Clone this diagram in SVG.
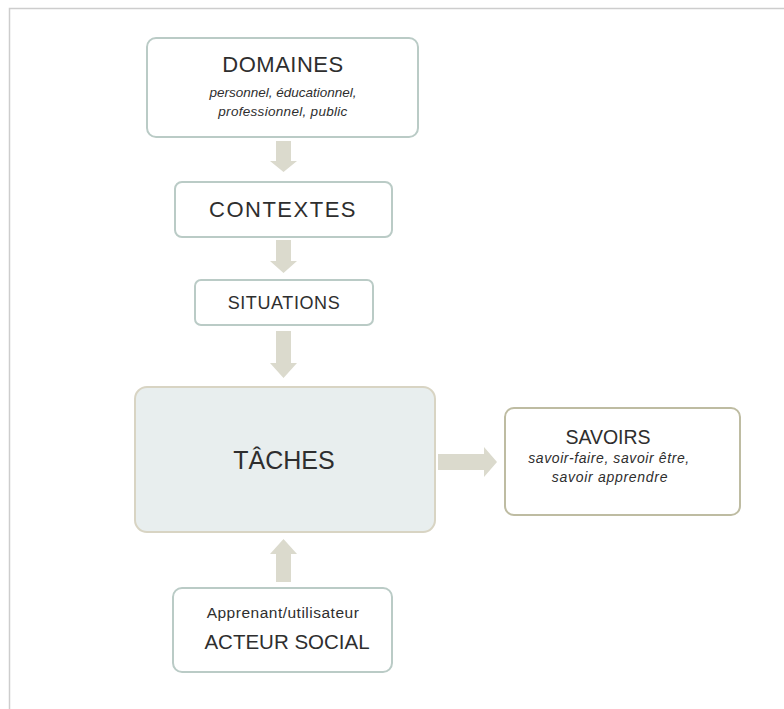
<svg xmlns="http://www.w3.org/2000/svg" width="784" height="709" viewBox="0 0 784 709">
<style>
.box{fill:#ffffff;stroke:#bacbc6;stroke-width:2}
.t{font-family:"Liberation Sans",Arial,sans-serif;fill:#2e2e2e;text-anchor:middle}
.s{font-family:"Liberation Sans",Arial,sans-serif;fill:#2e2e2e;text-anchor:middle;font-style:italic}
.arr{fill:#dbdacd}
</style>
<rect x="0" y="0" width="784" height="709" fill="#ffffff"/>
<path d="M9.5 709 V8.5 H784" fill="none" stroke="#cdcdcd" stroke-width="1.5"/>
<g id="connectors">
<polygon class="arr" points="276,141 291,141 291,161 297,161 283.5,172 270,161 276,161"/>
<polygon class="arr" points="276,240 291,240 291,261 297,261 283.5,273 270,261 276,261"/>
<polygon class="arr" points="276,331 291,331 291,363 297,363 283.5,378 270,363 276,363"/>
<polygon class="arr" points="276,582 291,582 291,554 297,554 283.5,539 270,554 276,554"/>
<polygon class="arr" points="438,454 484,454 484,447 497,462 484,477 484,470 438,470"/>
</g>
<g id="domaines">
<rect class="box" x="147" y="38" width="271" height="99" rx="9"/>
<text class="t" x="283" y="72" font-size="22" letter-spacing="0.5">DOMAINES</text>
<text class="s" x="283" y="97" font-size="13.5">personnel, éducationnel,</text>
<text class="s" x="283" y="116" font-size="13.5" letter-spacing="0.3">professionnel, public</text>
</g>
<g id="contextes">
<rect class="box" x="175" y="182" width="217" height="55" rx="7"/>
<text class="t" x="283" y="217" font-size="22" letter-spacing="1.5">CONTEXTES</text>
</g>
<g id="situations">
<rect class="box" x="195" y="280" width="178" height="45" rx="6"/>
<text class="t" x="284" y="309" font-size="18" letter-spacing="0.6">SITUATIONS</text>
</g>
<g id="taches">
<rect x="135" y="387" width="300" height="145" rx="12" fill="#e8eeee" stroke="#d8d4c3" stroke-width="2"/>
<text class="t" x="284" y="469" font-size="25">TÂCHES</text>
</g>
<g id="savoirs">
<rect x="505" y="408" width="235" height="107" rx="9" fill="#ffffff" stroke="#bebca2" stroke-width="2"/>
<text class="t" x="608" y="444" font-size="19.5">SAVOIRS</text>
<text class="s" x="609" y="463" font-size="14" letter-spacing="0.6">savoir-faire, savoir être,</text>
<text class="s" x="610" y="482" font-size="14" letter-spacing="0.7">savoir apprendre</text>
</g>
<g id="acteur">
<rect class="box" x="173" y="588" width="219" height="84" rx="9"/>
<text class="t" x="283" y="618" font-size="15.5" letter-spacing="0.5">Apprenant/utilisateur</text>
<text class="t" x="287" y="649" font-size="20.5">ACTEUR SOCIAL</text>
</g>
</svg>
